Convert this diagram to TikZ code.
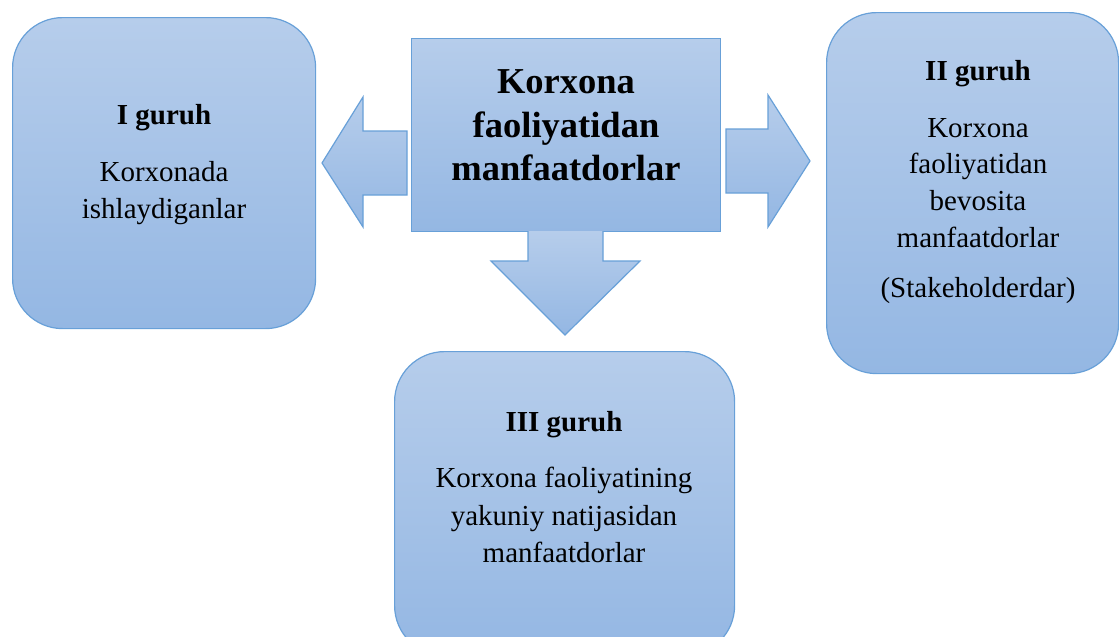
\documentclass[tikz,border=0pt]{standalone}
\usepackage{fontspec}
\setmainfont{Liberation Serif}
\definecolor{fillTop}{RGB}{182,205,235}
\definecolor{fillBot}{RGB}{148,183,227}
\definecolor{edge}{RGB}{104,160,216}
\tikzset{
  shadedfill/.style={top color=fillTop, bottom color=fillBot, draw=edge, line width=1.2pt},
  groupbox/.style={shadedfill, rounded corners=50pt, inner sep=0pt, anchor=north west},
  titlebox/.style={shadedfill, inner sep=0pt, anchor=north west},
  blockarrow/.style={shadedfill, line join=miter},
  grp/.style={font=\fontsize{29}{35}\selectfont\bfseries, anchor=base, inner sep=0pt},
  body/.style={font=\fontsize{29}{35}\selectfont, anchor=base, inner sep=0pt},
  ttl/.style={font=\fontsize{36.5}{44}\selectfont\bfseries, anchor=base, inner sep=0pt},
}
\begin{document}
\begin{tikzpicture}[x=1pt,y=-1pt]
\clip (0,0) rectangle (1119,637);
\fill[white] (0,0) rectangle (1119,637);

% boxes
\node[groupbox, minimum width=303pt, minimum height=311pt] (g1) at (12,17) {};
\node[groupbox, minimum width=292pt, minimum height=361pt] (g2) at (826,12) {};
\node[groupbox, minimum width=340pt, minimum height=304pt] (g3) at (394,351) {};
\node[titlebox, minimum width=309pt, minimum height=193pt] (c) at (411,38) {};

% block arrows
\draw[blockarrow] (407,131) -- (363,131) -- (363,97) -- (322,163) -- (363,227) -- (363,195) -- (407,195) -- cycle;
\draw[blockarrow] (726,129) -- (768,129) -- (768,95) -- (810,161) -- (768,227) -- (768,193) -- (726,193) -- cycle;
\draw[blockarrow] (528,231) -- (528,261) -- (491,261) -- (565,335) -- (640,261) -- (603,261) -- (603,231);

% centre title
\node[ttl] (c1) at (566,93) {Korxona};
\node[ttl] (c2) at (566,137) {faoliyatidan};
\node[ttl] (c3) at (566,180) {manfaatdorlar};

% group I
\node[grp] (g1t) at (164,124) {I guruh};
\node[body] (g1a) at (164,181) {Korxonada};
\node[body] (g1b) at (164,218) {ishlaydiganlar};

% group II
\node[grp] (g2t) at (978,80) {II guruh};
\node[body] (g2a) at (978,137) {Korxona};
\node[body] (g2b) at (978,173) {faoliyatidan};
\node[body] (g2c) at (978,210) {bevosita};
\node[body] (g2d) at (978,247) {manfaatdorlar};
\node[body] (g2e) at (978,297) {(Stakeholderdar)};

% group III
\node[grp] (g3t) at (564,431) {III guruh};
\node[body] (g3a) at (564,487) {Korxona faoliyatining};
\node[body] (g3b) at (564,525) {yakuniy natijasidan};
\node[body] (g3c) at (564,562) {manfaatdorlar};
\end{tikzpicture}
\end{document}
